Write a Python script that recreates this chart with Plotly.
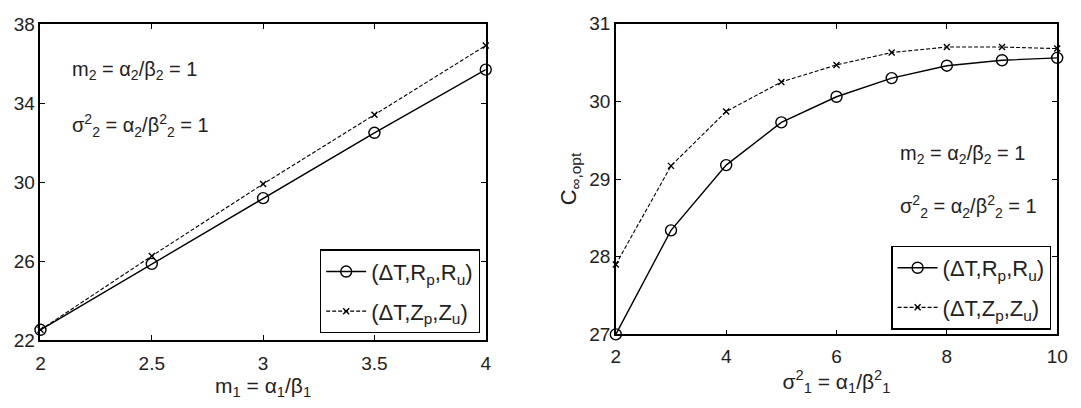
import plotly.graph_objects as go

# Left panel data
m1 = [2, 2.5, 3, 3.5, 4]
left_R = [22.52, 25.86, 29.19, 32.5, 35.7]
left_Z = [22.52, 26.26, 29.91, 33.41, 36.92]

# Right panel data
s1 = [2, 3, 4, 5, 6, 7, 8, 9, 10]
right_R = [27.0, 28.34, 29.18, 29.73, 30.06, 30.30, 30.46, 30.53, 30.56]
right_Z = [27.9, 29.17, 29.87, 30.25, 30.47, 30.63, 30.70, 30.70, 30.68]

name_R = "(ΔT,R<sub>p</sub>,R<sub>u</sub>)"
name_Z = "(ΔT,Z<sub>p</sub>,Z<sub>u</sub>)"

FONT = "Liberation Sans, Arial, sans-serif"
W, H = 1081, 408
TXT = "#222"

fig = go.Figure()

circ = dict(symbol="circle-open", size=11, color="black", line=dict(width=1.4, color="black"))
xm = dict(symbol="x-thin-open", size=6, color="black", line=dict(width=1.4, color="black"))

fig.add_trace(go.Scatter(x=m1, y=left_R, mode="lines+markers", name=name_R,
                         line=dict(color="black", width=1.4), marker=circ, cliponaxis=False,
                         legendgroup="a", xaxis="x", yaxis="y", legend="legend"))
fig.add_trace(go.Scatter(x=m1, y=left_Z, mode="lines+markers", name=name_Z,
                         line=dict(color="black", width=1.1, dash="4px,2px"), marker=xm,
                         legendgroup="b", cliponaxis=False, xaxis="x", yaxis="y", legend="legend"))
fig.add_trace(go.Scatter(x=s1, y=right_R, mode="lines+markers", name=name_R,
                         line=dict(color="black", width=1.4), marker=circ, cliponaxis=False,
                         legendgroup="c", xaxis="x2", yaxis="y2", legend="legend2"))
fig.add_trace(go.Scatter(x=s1, y=right_Z, mode="lines+markers", name=name_Z,
                         line=dict(color="black", width=1.1, dash="4px,2px"), marker=xm,
                         legendgroup="d", cliponaxis=False, xaxis="x2", yaxis="y2", legend="legend2"))

axis_common = dict(showgrid=False, zeroline=False, showline=True, linecolor="black",
                   linewidth=1.5, mirror="ticks", ticks="inside", ticklen=5,
                   tickcolor="black", tickwidth=1,
                   tickfont=dict(family=FONT, size=19, color=TXT))

def px_x(p):
    return p / W

def px_y(p):
    return 1 - p / H

title_font = dict(family=FONT, size=21, color=TXT)

fig.update_layout(
    width=W, height=H,
    margin=dict(l=0, r=0, t=0, b=0),
    paper_bgcolor="white", plot_bgcolor="white",
    font=dict(family=FONT, size=18, color=TXT),
    xaxis=dict(axis_common, domain=[px_x(36), px_x(488)], range=[2, 4],
               tickvals=[2, 2.5, 3, 3.5, 4], ticktext=["2", "2.5", "3", "3.5", "4"],
               anchor="y", ticklabelstandoff=5,
               title=dict(text="m<sub>1</sub> = α<sub>1</sub>/β<sub>1</sub>",
                          font=title_font, standoff=0)),
    yaxis=dict(axis_common, domain=[px_y(348), px_y(15)], range=[22, 38],
               tickvals=[22, 26, 30, 34, 38], anchor="x"),
    xaxis2=dict(axis_common, domain=[px_x(620), px_x(1068)], range=[2, 10],
                tickvals=[2, 4, 6, 8, 10], anchor="y2", ticklabelstandoff=4,
                title=dict(text="σ<sup>2</sup><sub>1</sub> = α<sub>1</sub>/β<sup>2</sup><sub>1</sub>",
                           font=title_font, standoff=0)),
    yaxis2=dict(axis_common, domain=[px_y(342), px_y(14.5)], range=[27, 31],
                tickvals=[27, 28, 29, 30, 31], anchor="x2",
                title=dict(text="C<sub>∞,opt</sub>", font=dict(family=FONT, size=22, color=TXT),
                           standoff=6)),
    legend=dict(x=px_x(482), y=px_y(341), xanchor="right", yanchor="bottom",
                bgcolor="white", bordercolor="black", borderwidth=1.3,
                font=dict(family=FONT, size=22, color=TXT), tracegroupgap=8,
                itemwidth=40),
    legend2=dict(x=px_x(1062), y=px_y(337), xanchor="right", yanchor="bottom",
                 bgcolor="white", bordercolor="black", borderwidth=1.3,
                 font=dict(family=FONT, size=22, color=TXT), tracegroupgap=8,
                 itemwidth=40),
    showlegend=True,
)

ann_font = dict(family=FONT, size=20, color=TXT)
line1 = "m<sub>2</sub> = α<sub>2</sub>/β<sub>2</sub> = 1"
line2 = "σ<sup>2</sup><sub>2</sub> = α<sub>2</sub>/β<sup>2</sup><sub>2</sub> = 1"
fig.add_annotation(x=px_x(66), y=px_y(64), xref="paper", yref="paper", text=line1,
                   showarrow=False, xanchor="left", yanchor="middle", font=ann_font)
fig.add_annotation(x=px_x(66), y=px_y(122), xref="paper", yref="paper", text=line2,
                   showarrow=False, xanchor="left", yanchor="middle", font=ann_font)
fig.add_annotation(x=px_x(906), y=px_y(152), xref="paper", yref="paper", text=line1,
                   showarrow=False, xanchor="left", yanchor="middle", font=ann_font)
fig.add_annotation(x=px_x(906), y=px_y(207), xref="paper", yref="paper", text=line2,
                   showarrow=False, xanchor="left", yanchor="middle", font=ann_font)

fig.write_html("out.html")
